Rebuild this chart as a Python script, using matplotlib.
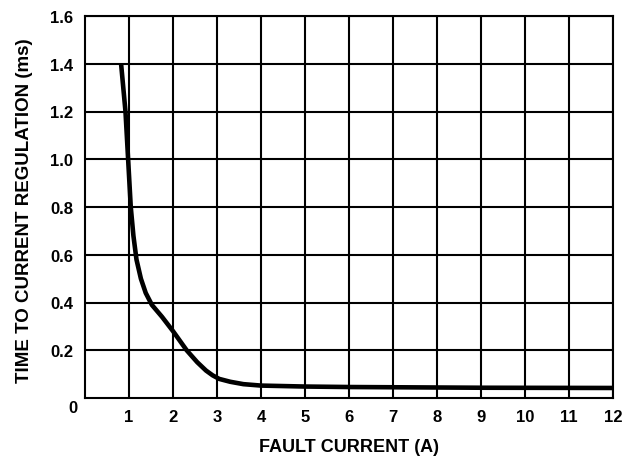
import matplotlib
matplotlib.use("Agg")
import matplotlib.pyplot as plt

plt.rcParams['font.family'] = ['Liberation Sans', 'DejaVu Sans']
plt.rcParams['font.weight'] = 'bold'

fault_current = [0.82, 0.87, 0.92, 0.98, 1.04, 1.10, 1.17, 1.27, 1.38, 1.52,
                 1.75, 2.0, 2.31, 2.55, 2.75, 2.9, 3.05, 3.3, 3.6, 4.0,
                 5.0, 6.0, 7.0, 9.0, 12.0]
time_ms = [1.40, 1.30, 1.20, 1.00, 0.80, 0.68, 0.58, 0.50, 0.44, 0.39,
           0.34, 0.28, 0.20, 0.15, 0.115, 0.095, 0.08, 0.068, 0.058, 0.052,
           0.048, 0.046, 0.045, 0.043, 0.042]

x_ticks = list(range(1, 13))
x_tick_labels = [str(v) for v in x_ticks]
y_ticks = [0.2, 0.4, 0.6, 0.8, 1.0, 1.2, 1.4, 1.6]
y_tick_labels = ['0.2', '0.4', '0.6', '0.8', '1.0', '1.2', '1.4', '1.6']

fig = plt.figure(figsize=(6.41, 4.64), dpi=100)
ax = fig.add_axes([85/641, 1-399/464, (613-85)/641, (399-17)/464])

ax.plot(fault_current, time_ms, color='black', linewidth=3.3, solid_capstyle='butt', zorder=3)

ax.set_xlim(0, 12)
ax.set_ylim(0, 1.6)
ax.set_xticks(x_ticks)
ax.set_xticklabels(x_tick_labels, fontsize=12, fontweight='bold')
ax.set_yticks(y_ticks)
ax.set_yticklabels(y_tick_labels, fontsize=12, fontweight='bold')
ax.tick_params(axis='both', length=0)
ax.tick_params(axis='x', pad=8)
ax.tick_params(axis='y', pad=8.5)
ax.grid(True, color='black', linewidth=1.5)
ax.set_axisbelow(True)
for s in ax.spines.values():
    s.set_linewidth(1.5)
    s.set_color('black')

fig.text(73/641, 1-409/464, '0', fontsize=12, fontweight='bold', ha='center', va='center')
fig.text(349/641, 1-448/464, 'FAULT CURRENT (A)', fontsize=13, fontweight='bold', ha='center', va='center')
fig.text(25/641, 1-211/464, 'TIME TO CURRENT REGULATION (ms)', fontsize=13.5, fontweight='bold',
         ha='center', va='center', rotation=90)

fig.savefig('out.png', dpi=100)
